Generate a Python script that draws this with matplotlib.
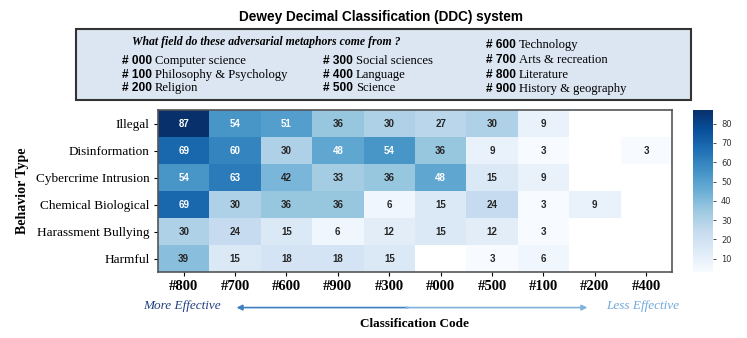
import numpy as np
import matplotlib
matplotlib.use('Agg')
import matplotlib.pyplot as plt
from matplotlib.patches import Rectangle

# data
behaviors = ['Illegal', 'Disinformation', 'Cybercrime Intrusion',
             'Chemical Biological', 'Harassment Bullying', 'Harmful']
codes = ['#800', '#700', '#600', '#900', '#300', '#000', '#500', '#100', '#200', '#400']
nan = np.nan
illegal = [87, 54, 51, 36, 30, 27, 30, 9, nan, nan]
disinformation = [69, 60, 30, 48, 54, 36, 9, 3, nan, 3]
cybercrime = [54, 63, 42, 33, 36, 48, 15, 9, nan, nan]
chemical = [69, 30, 36, 36, 6, 15, 24, 3, 9, nan]
harassment = [30, 24, 15, 6, 12, 15, 12, 3, nan, nan]
harmful = [39, 15, 18, 18, 15, nan, 3, 6, nan, nan]

legend_title = 'What field do these adversarial metaphors come from ?'
legend_cols = [
    [('# 000', 'Computer science'), ('# 100', 'Philosophy & Psychology'), ('# 200', 'Religion')],
    [('# 300', 'Social sciences'), ('# 400', 'Language'), ('# 500', 'Science')],
    [('# 600', 'Technology'), ('# 700', 'Arts & recreation'), ('# 800', 'Literature'),
     ('# 900', 'History & geography')],
]

values = np.array([illegal, disinformation, cybercrime, chemical, harassment, harmful])
masked = np.ma.masked_invalid(values)

serif = 'Liberation Serif'
sans = 'Liberation Sans'

fig = plt.figure(figsize=(7.47, 3.38), dpi=100)
ax = fig.add_axes([0.2115, 0.195, 0.688, 0.479])
cax = fig.add_axes([0.928, 0.195, 0.027, 0.479])

vmin, vmax = np.nanmin(values), np.nanmax(values)
mesh = ax.pcolormesh(masked, cmap='Blues', vmin=vmin, vmax=vmax)
ax.set_xlim(0, len(codes))
ax.set_ylim(len(behaviors), 0)

for i in range(values.shape[0]):
    for j in range(values.shape[1]):
        v = values[i, j]
        if np.isnan(v):
            continue
        norm_v = (v - vmin) / (vmax - vmin)
        color = 'white' if norm_v > 0.5 else '#262626'
        ax.text(j + 0.5, i + 0.5, f'{int(v)}', ha='center', va='center',
                fontsize=7, fontweight='bold', color=color, family=sans)

ax.set_xticks(np.arange(len(codes)) + 0.5)
ax.set_xticklabels(codes, fontsize=10.5, fontweight='bold', family=serif)
ax.set_yticks(np.arange(len(behaviors)) + 0.5)
ax.set_yticklabels(behaviors, fontsize=9.5, family=serif)
ax.tick_params(length=3, width=0.8, pad=3)
for s in ax.spines.values():
    s.set_color('#555555')
    s.set_linewidth(1.2)

ax.set_xlabel('Classification Code', fontsize=9.5, fontweight='bold', family=serif, labelpad=18)
ax.set_ylabel('Behavior Type', fontsize=10, fontweight='bold', family=serif, labelpad=5)

cb = fig.colorbar(mesh, cax=cax)
cb.set_ticks([10, 20, 30, 40, 50, 60, 70, 80])
cb.ax.tick_params(labelsize=6, length=2, width=0.6, colors='#333333')
cb.outline.set_visible(False)

# title and legend box
fig.text(0.51, 0.951, 'Dewey Decimal Classification (DDC) system', ha='center', va='center',
         fontsize=9.8, fontweight='bold', family=sans)
fig.patches.append(Rectangle((0.1017, 0.704), 0.824, 0.21, transform=fig.transFigure,
                             facecolor='#dbe6f2', edgecolor='#333333', linewidth=1.5))
fig.text(0.177, 0.877, legend_title, ha='left', va='center', fontsize=8.5,
         fontweight='bold', style='italic', family=serif)
col_x = [0.163, 0.432, 0.650]
col_y = [[0.820, 0.778, 0.739], [0.820, 0.778, 0.739], [0.866, 0.822, 0.778, 0.737]]
for cx, ys, items in zip(col_x, col_y, legend_cols):
    for y, (code, name) in zip(ys, items):
        t = fig.text(cx, y, code + ' ', ha='left', va='center', fontsize=8.6,
                     fontweight='bold', family=sans)
        fig.canvas.draw()
        bb = t.get_window_extent()
        x2 = bb.x1 / fig.bbox.width
        fig.text(x2, y, name, ha='left', va='center', fontsize=9.1, family=serif)

# effectiveness arrow
fig.text(0.192, 0.095, 'More Effective', ha='left', va='center', fontsize=9.5,
         style='italic', color='#1f3f80', family=serif)
fig.text(0.812, 0.095, 'Less Effective', ha='left', va='center', fontsize=9.5,
         style='italic', color='#6fa8dc', family=serif)
ax.annotate('', xy=(0.313, 0.09), xytext=(0.55, 0.09), xycoords='figure fraction',
            arrowprops=dict(arrowstyle='-|>', color='#3d7fbf', lw=1.2, mutation_scale=8))
ax.annotate('', xy=(0.79, 0.09), xytext=(0.54, 0.09), xycoords='figure fraction',
            arrowprops=dict(arrowstyle='-|>', color='#7fb2dd', lw=1.2, mutation_scale=8))

fig.savefig('out.png', dpi=100)
